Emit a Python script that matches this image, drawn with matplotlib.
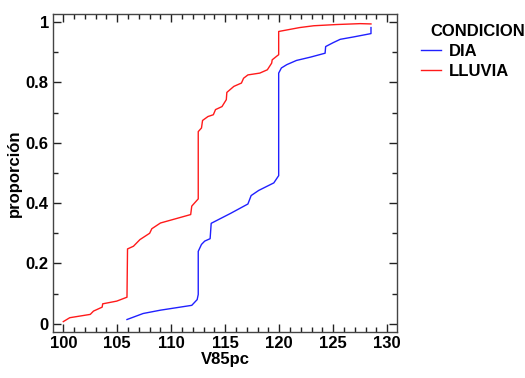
import matplotlib
matplotlib.use("Agg")
import matplotlib.pyplot as plt
from matplotlib.ticker import MultipleLocator

# Cumulative proportion of V85pc by condition
dia_v85 = [105.9, 107.4, 109.0, 111.9, 112.4, 112.5, 112.5, 112.8, 113.1, 113.6,
           113.7, 115.5, 117.1, 117.4, 118.1, 119.5, 119.95, 119.95, 120.2, 120.7,
           121.6, 122.9, 124.25, 124.3, 125.0, 125.65, 126.9, 128.5, 128.5]
dia_prop = [0.014, 0.034, 0.045, 0.061, 0.080, 0.097, 0.240, 0.263, 0.274, 0.282,
            0.333, 0.366, 0.397, 0.425, 0.442, 0.467, 0.491, 0.831, 0.848, 0.859,
            0.873, 0.884, 0.897, 0.919, 0.932, 0.943, 0.951, 0.962, 0.982]

lluvia_v85 = [100.0, 100.6, 102.5, 102.8, 103.6, 103.65, 104.95, 105.9, 105.95, 106.5,
              107.1, 108.0, 108.2, 109.0, 111.8, 111.9, 112.5, 112.5, 112.8, 112.9,
              113.4, 113.9, 114.1, 114.7, 115.1, 115.15, 115.8, 116.5, 116.7, 117.1,
              118.2, 118.9, 119.3, 119.35, 119.8, 119.95, 119.95, 120.7, 121.9, 123.2,
              125.3, 127.5, 128.5]
lluvia_prop = [0.007, 0.020, 0.031, 0.042, 0.055, 0.066, 0.075, 0.088, 0.248, 0.257,
               0.279, 0.300, 0.315, 0.334, 0.362, 0.390, 0.414, 0.637, 0.649, 0.674,
               0.687, 0.693, 0.710, 0.720, 0.743, 0.767, 0.787, 0.798, 0.814, 0.825,
               0.831, 0.842, 0.864, 0.875, 0.888, 0.892, 0.969, 0.974, 0.982, 0.988,
               0.992, 0.995, 0.994]

series_names = ["DIA", "LLUVIA"]
series_colors = ["#2020ff", "#ff1a1a"]
legend_title = "CONDICION"
x_label = "V85pc"
y_label = "proporción"
x_ticks = [100, 105, 110, 115, 120, 125, 130]
y_ticks = [0, 0.2, 0.4, 0.6, 0.8, 1.0]
y_tick_labels = ["0", "0.2", "0.4", "0.6", "0.8", "1"]

plt.rcParams["font.family"] = ["Liberation Sans", "DejaVu Sans"]
plt.rcParams["font.weight"] = "bold"
FS = 12

fig = plt.figure(figsize=(5.25, 3.78), dpi=100)
ax = fig.add_axes([0.101, 0.122, 0.655, 0.841])

ax.plot(dia_v85, dia_prop, color=series_colors[0], lw=1.0, label=series_names[0])
ax.plot(lluvia_v85, lluvia_prop, color=series_colors[1], lw=1.0, label=series_names[1])

ax.set_xlim(99.05, 130.9)
ax.set_ylim(-0.027, 1.027)
ax.set_xticks(x_ticks)
ax.set_yticks(y_ticks)
ax.set_yticklabels(y_tick_labels)
ax.xaxis.set_minor_locator(MultipleLocator(1))
ax.yaxis.set_minor_locator(MultipleLocator(0.1))

ax.tick_params(which="both", direction="in", top=True, right=True,
               color="#222222", width=1.0, labelsize=FS, pad=3)
ax.tick_params(which="major", length=6)
ax.tick_params(which="minor", length=3.5)
for lab in ax.get_xticklabels() + ax.get_yticklabels():
    lab.set_fontweight("bold")

for side, sp in ax.spines.items():
    sp.set_color("#444444")
    sp.set_linewidth(1.0)

ax.set_xlabel(x_label, fontsize=FS, fontweight="bold", labelpad=1)
ax.set_ylabel(y_label, fontsize=FS, fontweight="bold", labelpad=3)

fig.text(430 / 525, 1 - 31 / 378, legend_title, fontsize=FS, fontweight="bold",
         ha="left", va="center")
leg = ax.legend(loc="upper left", bbox_to_anchor=(419 / 525, 1 - 42 / 378),
                bbox_transform=fig.transFigure, frameon=False, fontsize=FS,
                handlelength=1.2, handletextpad=0.5, labelspacing=0.3,
                borderaxespad=0, borderpad=0.1)
for t in leg.get_texts():
    t.set_fontweight("bold")

fig.savefig("out.png", dpi=100)
